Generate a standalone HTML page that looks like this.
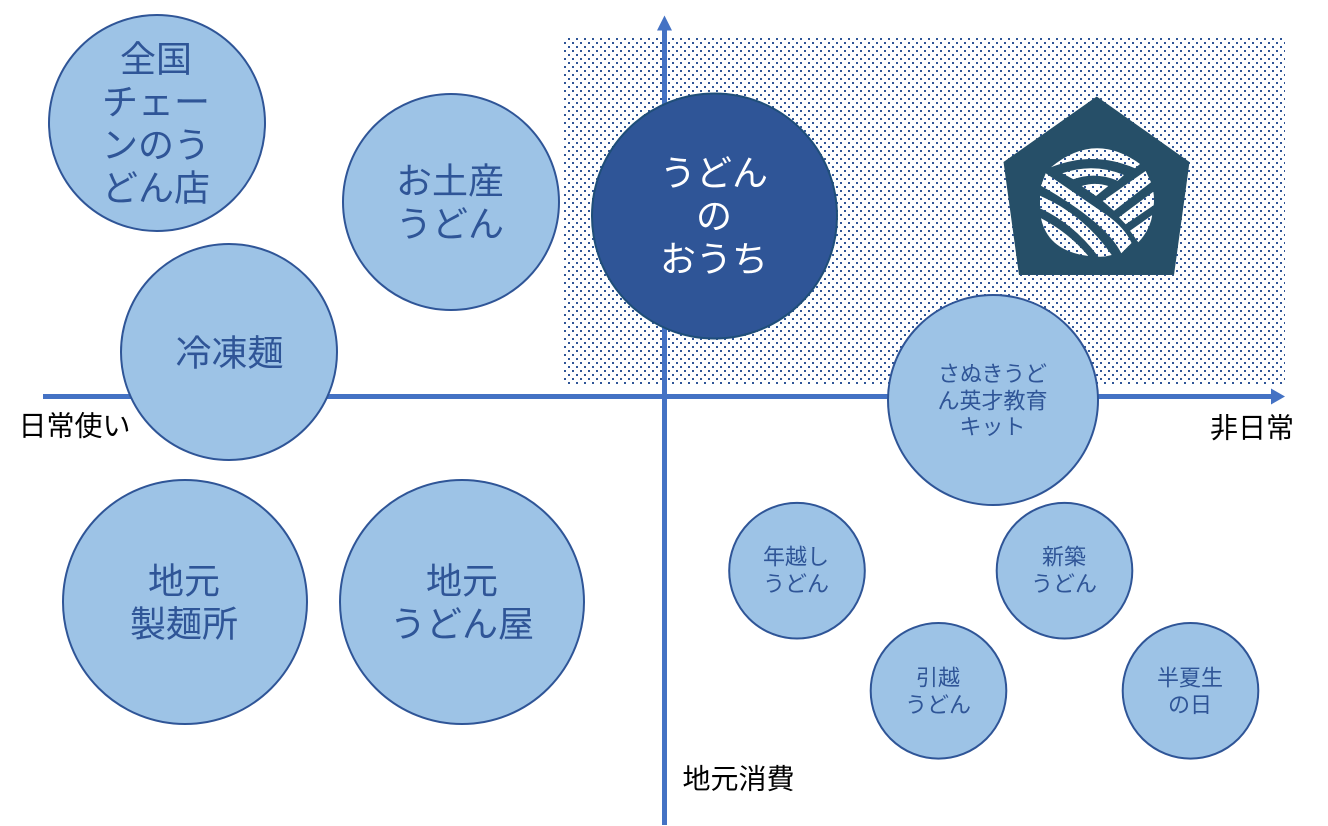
<!DOCTYPE html>
<html lang="ja">
<head>
<meta charset="utf-8">
<title>うどんのおうち ポジショニングマップ</title>
<style>
html,body{margin:0;padding:0;background:#fff;width:1328px;height:826px;overflow:hidden}
svg{display:block}
text{font-family:"Liberation Sans","Noto Sans CJK JP",sans-serif;text-anchor:middle}
.c{fill:#9DC3E6;stroke:#2F5597;stroke-width:2}
.b{font-size:36px;fill:#2F5597}
.s{font-size:22px;fill:#2F5597}
.w{font-size:36px;fill:#fff}
.l{font-size:28px;fill:#000}
</style>
</head>
<body>
<svg width="1328" height="826" viewBox="0 0 1328 826" xmlns="http://www.w3.org/2000/svg">
<defs>
<pattern id="d" x="564" y="38" width="8" height="8" patternUnits="userSpaceOnUse">
<rect width="8" height="8" fill="#fff"/>
<rect x="4" y="0" width="2" height="2" fill="#2F5597"/>
<rect x="0" y="4" width="2" height="2" fill="#2F5597"/>
</pattern>
</defs>
<rect x="564" y="38" width="721" height="347" fill="url(#d)"/>

<!-- logo -->
<polygon points="1096.7,96.5 1189.5,162 1174,275 1019,275 1003.5,162" fill="#264F68"/>
<g fill="url(#d)">
<path d="M1051,167.3 Q1094.7,131 1140,164 L1135,168.3 Q1093.3,150.3 1051,167.3Z"/>
<path d="M1062.3,173.3 Q1093.3,162.5 1124,175 L1117.7,180.7 Q1095.3,171.3 1073.3,179.3Z"/>
<path d="M1081.7,186 Q1095,181.7 1108.3,186 L1096,196Z"/>
<path d="M1102.7,201 L1145.7,171 L1151,182.3 L1114,210.7Z"/>
<path d="M1119,217.3 L1153.3,191.7 Q1154.5,198 1153.7,205.3 L1125.7,224.3Z"/>
<path d="M1130,230.7 L1152.3,215 Q1150,230 1138.3,242.3Z"/>
<path d="M1045.7,173.3 L1106.7,215 Q1125,228 1131.5,243 L1121.3,253.3 Q1106.7,223 1041,185.7Z"/>
<path d="M1040,195.7 Q1084,214.7 1111.7,255 Q1105,257 1098.3,256.7 Q1074,224 1040,208.3Z"/>
<path d="M1041,218.3 Q1068.7,232.7 1088.3,256 Q1048,251 1041,218.3Z"/>
</g>

<!-- axes -->
<rect x="43" y="394" width="1229" height="5" fill="#4472C4"/>
<polygon points="1271,388.5 1285,396.5 1271,404.5" fill="#4472C4"/>
<rect x="662" y="29" width="5" height="796" fill="#4472C4"/>
<polygon points="664.5,15.5 672,30.5 657,30.5" fill="#4472C4"/>

<!-- circles -->
<circle class="c" cx="157" cy="123" r="108"/>
<text class="b" x="156" y="71.5">全国</text>
<text class="b" x="156" y="114.5">チェー</text>
<text class="b" x="156" y="157.5">ンのう</text>
<text class="b" x="156" y="200.5">どん店</text>

<circle class="c" cx="451" cy="202" r="108"/>
<text class="b" x="450" y="193.5">お土産</text>
<text class="b" x="450" y="236.5">うどん</text>

<circle class="c" cx="229" cy="352" r="108"/>
<text class="b" x="229.5" y="365.5">冷凍麺</text>

<circle class="c" cx="185" cy="602" r="122"/>
<text class="b" x="184" y="593.5">地元</text>
<text class="b" x="184" y="636.5">製麺所</text>

<circle class="c" cx="462" cy="602" r="122"/>
<text class="b" x="462" y="593.5">地元</text>
<text class="b" x="462" y="636.5">うどん屋</text>

<circle cx="714.5" cy="216" r="122.5" fill="#2F5597" stroke="#1F4E79" stroke-width="2"/>
<text class="w" x="714" y="185.5">うどん</text>
<text class="w" x="714" y="228.5">の</text>
<text class="w" x="714" y="271.5">おうち</text>

<circle class="c" cx="993" cy="400" r="105"/>
<text class="s" x="992.5" y="381.5">さぬきうど</text>
<text class="s" x="992.5" y="408.5">ん英才教育</text>
<text class="s" x="992.5" y="434.5">キット</text>

<circle class="c" cx="797" cy="570.7" r="67.8"/>
<text class="s" x="796" y="564.5">年越し</text>
<text class="s" x="796" y="591.5">うどん</text>

<circle class="c" cx="1064.5" cy="570.7" r="67.8"/>
<text class="s" x="1064" y="564.5">新築</text>
<text class="s" x="1064" y="591.5">うどん</text>

<circle class="c" cx="938.5" cy="690.8" r="67.8"/>
<text class="s" x="938" y="685.5">引越</text>
<text class="s" x="938" y="712.5">うどん</text>

<circle class="c" cx="1190.5" cy="690.8" r="67.8"/>
<text class="s" x="1190" y="685.5">半夏生</text>
<text class="s" x="1190" y="712.5">の日</text>

<!-- labels -->
<text class="l" x="74.5" y="435.5">日常使い</text>
<text class="l" x="1252" y="437.5">非日常</text>
<text class="l" x="738.5" y="788.5">地元消費</text>
</svg>
</body>
</html>
